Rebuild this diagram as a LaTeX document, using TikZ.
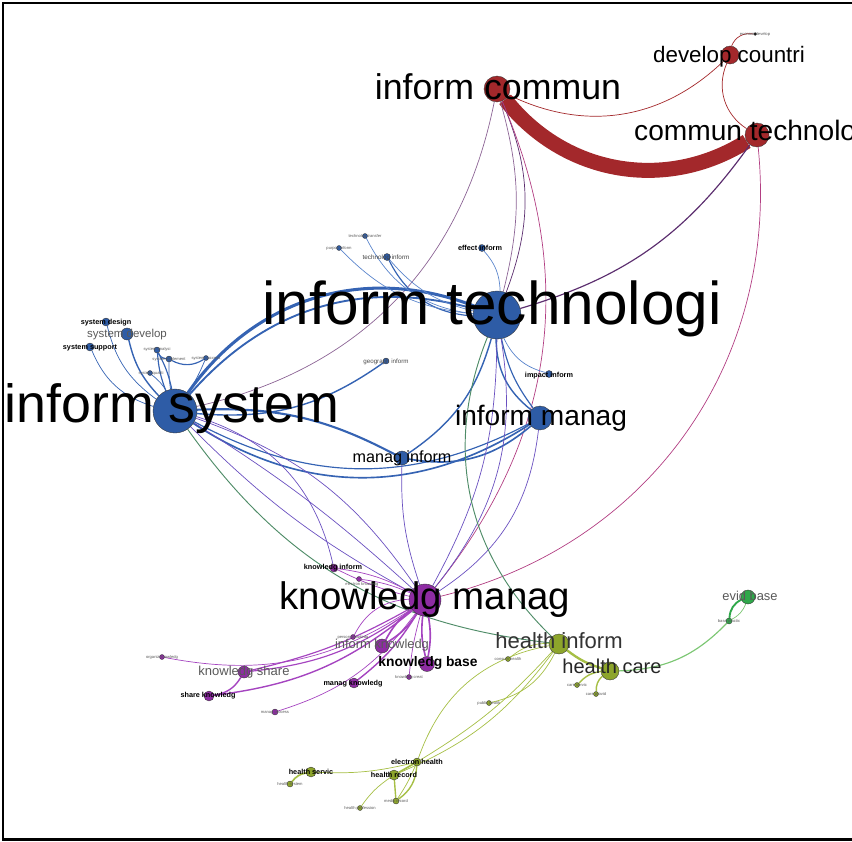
\documentclass[tikz,border=0pt]{standalone}
\usepackage{fontspec}
\setmainfont{Liberation Sans}
\usetikzlibrary{backgrounds}

\definecolor{itblue}{HTML}{2E5CA6}
\definecolor{edgeblue}{HTML}{3563B3}
\definecolor{lightblue}{HTML}{5C86CC}
\definecolor{icred}{HTML}{A3282B}
\definecolor{kmpurple}{HTML}{8E2CA3}
\definecolor{edgepurple}{HTML}{A544C0}
\definecolor{kmviolet}{HTML}{6A50C0}
\definecolor{hiolive}{HTML}{8DA52B}
\definecolor{edgeolive}{HTML}{A6BF45}
\definecolor{ebgreen}{HTML}{2FA84A}
\definecolor{edgegreen}{HTML}{7DC774}
\definecolor{mixgreen}{HTML}{4F8C68}
\definecolor{mixpurple}{HTML}{8C6495}
\definecolor{mixmagenta}{HTML}{B23E82}
\definecolor{mixdark}{HTML}{5B2D6E}

\tikzset{
    dot/.style={circle, draw=black!80, line width=0.3pt, inner sep=0pt, minimum size=#1*0.06cm},
    link/.style={draw=#1, line width=0.6pt},
    lbl/.style={font=\fontsize{#1}{#1}\selectfont, inner sep=0pt, anchor=base},
    tag/.style={font=\bfseries\fontsize{6.2}{6.2}\selectfont, inner sep=0pt, anchor=base},
    wee/.style={font=\fontsize{3.5}{3.5}\selectfont, text=black!65, inner sep=0pt, anchor=base}
}

\begin{document}
\begin{tikzpicture}[x=0.03cm, y=-0.03cm]
                \useasboundingbox (0,0) rectangle (852,841);
                \clip (0,0) rectangle (852,841);

                \node[dot=13, fill=icred] (ic) at (497,89) {};
                \node[dot=9, fill=icred] (dc) at (730,55) {};
                \node[dot=12, fill=icred] (ct) at (757,135) {};
                \node[dot=1.5, fill=black] (cd) at (755,34) {};

                \node[dot=24, fill=itblue] (it) at (497,315) {};
                \node[dot=22, fill=itblue] (is) at (175,411) {};
                \node[dot=12, fill=itblue] (im) at (540,418) {};
                \node[dot=7, fill=itblue] (mi) at (402,458) {};
                \node[dot=6, fill=itblue] (sdv) at (127,334) {};
                \node[dot=4, fill=itblue] (sd) at (106,322) {};
                \node[dot=4, fill=itblue] (ss) at (90,347) {};
                \node[dot=3, fill=itblue] (sa) at (157,350) {};
                \node[dot=3, fill=itblue] (sb) at (169,359) {};
                \node[dot=2.5, fill=itblue] (sc) at (206,358) {};
                \node[dot=2.5, fill=itblue] (se) at (150,373) {};
                \node[dot=3.5, fill=itblue] (ei) at (482,248) {};
                \node[dot=3.5, fill=itblue] (ti) at (387,257) {};
                \node[dot=2.5, fill=itblue] (pi) at (339,248) {};
                \node[dot=2.5, fill=itblue] (tt) at (365,236) {};
                \node[dot=3, fill=itblue] (gi) at (386,361) {};
                \node[dot=3.5, fill=itblue] (ii) at (549,374) {};

                \node[dot=16, fill=kmpurple] (km) at (425,600) {};
                \node[dot=4, fill=kmpurple] (kni) at (334,568) {};
                \node[dot=2.5, fill=kmpurple] (ek) at (359,579) {};
                \node[dot=7, fill=kmpurple] (ikn) at (382,646) {};
                \node[dot=2.5, fill=kmpurple] (pk) at (353,637) {};
                \node[dot=7.5, fill=kmpurple] (kb) at (427,664) {};
                \node[dot=2.5, fill=kmpurple] (kc) at (409,677) {};
                \node[dot=6, fill=kmpurple] (ksh) at (244,672) {};
                \node[dot=2.5, fill=kmpurple] (ok) at (162,657) {};
                \node[dot=5, fill=kmpurple] (shk) at (209,696) {};
                \node[dot=5, fill=kmpurple] (mk) at (354,683) {};
                \node[dot=3, fill=kmpurple] (mp) at (275,712) {};

                \node[dot=10, fill=hiolive] (hi) at (559,644) {};
                \node[dot=9, fill=hiolive] (hc) at (610,671) {};
                \node[dot=2.5, fill=hiolive] (ch) at (508,659) {};
                \node[dot=2.5, fill=hiolive] (ph) at (489,703) {};
                \node[dot=2.5, fill=hiolive] (cs) at (577,685) {};
                \node[dot=2.5, fill=hiolive] (cp) at (596,694) {};
                \node[dot=4, fill=hiolive] (eh) at (417,762) {};
                \node[dot=5, fill=hiolive] (hr) at (394,775) {};
                \node[dot=5, fill=hiolive] (hs) at (311,772) {};
                \node[dot=3, fill=hiolive] (hn) at (290,784) {};
                \node[dot=3, fill=hiolive] (mr) at (396,801) {};
                \node[dot=2.5, fill=hiolive] (hp) at (360,808) {};

                \node[dot=7, fill=ebgreen] (eb) at (748,597) {};
                \node[dot=3, fill=ebgreen] (bp) at (729,621) {};

                \begin{pgfonlayer}{background}
                \draw[link=icred, line width=12.8pt] (ic) to[bend right=42] (ct);
                \draw[link=icred] (ic) to[bend right=35] (dc);
                \draw[link=icred] (dc) to[bend right=40] (ct);
                \draw[link=icred] (dc) to[bend left=40] (cd);

                \draw[link=mixpurple] (ic) to[bend left=33] (is);
                \draw[link=mixpurple] (ic) to[bend left=15] (it);
                \draw[link=mixdark] (ic) to[bend left=22] (it);
                \draw[link=mixmagenta] (ic) to[bend left=31] (km);
                \draw[link=mixdark, line width=1pt] (ct) to[bend left=19] (it);
                \draw[link=mixmagenta] (ct) to[bend left=41] (km);

                \draw[link=edgeblue, line width=2.6pt] (is) to[bend left=38] (it);
                \draw[link=edgeblue, line width=1.6pt] (is) to[bend left=32] (it);
                \draw[link=edgeblue, line width=1.8pt] (is) to[bend left=15] (mi);
                \draw[link=edgeblue, line width=1.4pt] (is) to[bend right=33] (im);
                \draw[link=edgeblue, line width=1pt] (is) to[bend right=28] (im);
                \draw[link=edgeblue, line width=1.4pt] (mi) to[bend right=25] (im);
                \draw[link=edgeblue, line width=1.2pt] (it) to[bend right=25] (im);
                \draw[link=edgeblue, line width=1pt] (it) to[bend right=12] (im);
                \draw[link=edgeblue, line width=1.2pt] (it) to[bend left=20] (mi);
                \draw[link=lightblue] (it) to[bend right=25] (ii);
                \draw[link=lightblue] (ei) to[bend left=20] (it);
                \draw[link=edgeblue, line width=1pt] (ti) to[bend right=30] (it);
                \draw[link=lightblue] (ti) to[bend right=18] (it);
                \draw[link=lightblue] (pi) to[bend right=20] (it);
                \draw[link=lightblue] (tt) to[bend right=28] (it);
                \draw[link=edgeblue, line width=1.2pt] (gi) to[bend left=20] (is);
                \draw[link=edgeblue] (sd) to[bend right=20] (is);
                \draw[link=edgeblue, line width=1.2pt] (sdv) to[bend right=15] (is);
                \draw[link=edgeblue] (ss) to[bend right=25] (is);
                \draw[link=edgeblue, line width=1pt] (sa) to[bend right=8] (is);
                \draw[link=edgeblue, line width=1pt] (sa) to[bend left=8] (is);
                \draw[link=edgeblue] (sb) to[bend right=5] (is);
                \draw[link=edgeblue] (sc) to[bend left=5] (is);
                \draw[link=edgeblue] (se) to[bend left=10] (is);
                \draw[link=edgeblue, line width=1pt] (sa) to[bend right=30] (sb);
                \draw[link=edgeblue, line width=1pt] (sb) to[bend right=30] (sc);

                \draw[link=kmviolet] (is) to[bend left=18] (km);
                \draw[link=kmviolet] (is) to[bend left=5] (km);
                \draw[link=kmviolet] (is) to[bend right=8] (km);
                \draw[link=kmviolet] (is) to[bend left=30] (kni);
                \draw[link=kmviolet] (mi) to[bend right=10] (km);
                \draw[link=kmviolet] (im) to[bend left=25] (km);
                \draw[link=kmviolet] (it) to[bend left=24] (km);
                \draw[link=kmviolet] (it) to[bend left=14] (km);

                \draw[link=mixgreen, line width=0.8pt] (it) to[bend right=34] (hi);
                \draw[link=mixgreen, line width=0.8pt] (is) to[bend right=24] (hi);

                \draw[link=edgepurple] (km) to[bend right=10] (kni);
                \draw[link=edgepurple] (km) to[bend left=6] (kni);
                \draw[link=edgepurple] (km) to[bend right=8] (ek);
                \draw[link=edgepurple, line width=1.4pt] (km) to[bend left=12] (ikn);
                \draw[link=edgepurple, line width=1.4pt] (km) to[bend right=12] (ikn);
                \draw[link=edgepurple] (km) to[bend right=30] (pk);
                \draw[link=edgepurple, line width=1.4pt] (km) to[bend left=10] (kb);
                \draw[link=edgepurple, line width=1.4pt] (km) to[bend right=10] (kb);
                \draw[link=edgepurple] (km) to[bend right=5] (kc);
                \draw[link=edgepurple, line width=1pt] (km) to[bend left=15] (ksh);
                \draw[link=edgepurple, line width=1pt] (km) to[bend left=8] (ksh);
                \draw[link=edgepurple] (km) to[bend left=22] (ok);
                \draw[link=edgepurple, line width=1.2pt] (km) to[bend left=16] (shk);
                \draw[link=edgepurple, line width=1.2pt] (km) to[bend left=10] (mk);
                \draw[link=edgepurple] (km) to[bend left=18] (mp);
                \draw[link=edgepurple, line width=1.2pt] (ksh) to[bend left=25] (shk);

                \draw[link=edgeolive, line width=2pt] (hi) to[bend right=10] (hc);
                \draw[link=edgeolive] (hi) to[bend right=20] (ch);
                \draw[link=edgeolive] (hi) to[bend left=25] (ph);
                \draw[link=edgeolive] (hi) to[bend right=30] (eh);
                \draw[link=edgeolive] (eh) to[bend right=8] (hi);
                \draw[link=edgeolive] (hr) to[bend right=15] (hi);
                \draw[link=edgeolive] (hs) to[bend right=8] (eh);
                \draw[link=edgeolive, line width=1.4pt] (hs) to[bend right=20] (hn);
                \draw[link=edgeolive] (hr) to[bend right=10] (hp);
                \draw[link=edgeolive, line width=1.2pt] (hr) to (mr);
                \draw[link=edgeolive, line width=1.2pt] (eh) to[bend left=25] (mr);
                \draw[link=edgeolive] (eh) to[bend left=5] (mr);
                \draw[link=edgeolive, line width=1.4pt] (eh) to (hr);
                \draw[link=edgeolive, line width=1.2pt] (hc) to[bend right=20] (cs);
                \draw[link=edgeolive, line width=1.2pt] (hc) to[bend right=25] (cp);

                \draw[link=edgegreen, line width=1pt] (hc) to[bend right=22] (bp);
                \draw[link=ebgreen, line width=1.6pt] (bp) to[bend left=30] (eb);
                \draw[link=edgegreen] (bp) to[bend right=20] (eb);
                \end{pgfonlayer}

                \node[lbl=30.5] (ic-l) at (498,99) {inform commun};
                \node[lbl=19.1] (dc-l) at (729,62) {develop countri};
                \node[lbl=24, anchor=base west] (ct-l) at (634,140) {commun technologi};
                \node[wee] (cd-l) at (755,35) {econom develop};

                \node[lbl=51.5] (it-l) at (492,324) {inform technologi};
                \node[lbl=45.9] (is-l) at (172,422) {inform system};
                \node[lbl=24] (im-l) at (541,425) {inform manag};
                \node[lbl=13.8] (mi-l) at (402,462) {manag inform};
                \node[lbl=9.8, text=black!65] (sdv-l) at (127,337) {system develop};
                \node[tag] (sd-l) at (106,324) {system design};
                \node[tag] (ss-l) at (90,349) {system support};
                \node[wee] (sa-l) at (157,350) {system analysi};
                \node[wee] (sb-l) at (169,360) {system implement};
                \node[wee] (sc-l) at (206,359) {system success};
                \node[wee] (se-l) at (151,374) {system qualiti};
                \node[tag] (ei-l) at (480,250) {effect inform};
                \node[lbl=5.4, text=black!75] (ti-l) at (386,259) {technolog inform};
                \node[wee] (pi-l) at (339,249) {purpos inform};
                \node[wee] (tt-l) at (365,237) {technolog transfer};
                \node[lbl=5.3, text=black!70] (gi-l) at (386,363) {geograph inform};
                \node[tag] (ii-l) at (549,377) {impact inform};

                \node[lbl=32.8] (km-l) at (425,609) {knowledg manag};
                \node[tag] (kni-l) at (333,569) {knowledg inform};
                \node[wee] (ek-l) at (362,585) {electron knowledg};
                \node[lbl=11, text=black!65] (ikn-l) at (382,648) {inform knowledg};
                \node[wee] (pk-l) at (353,638) {person knowledg};
                \node[lbl=11.8, font=\bfseries\fontsize{11.8}{11.8}\selectfont] (kb-l) at (428,666) {knowledg base};
                \node[wee] (kc-l) at (409,678) {knowledg creat};
                \node[lbl=11.1, text=black!65] (ksh-l) at (244,675) {knowledg share};
                \node[wee] (ok-l) at (162,658) {organiz knowledg};
                \node[tag] (shk-l) at (208,697) {share knowledg};
                \node[tag] (mk-l) at (353,685) {manag knowledg};
                \node[wee] (mp-l) at (275,713) {manag process};

                \node[lbl=18.8, text=black!80] (hi-l) at (559,648) {health inform};
                \node[lbl=17.1, text=black!85] (hc-l) at (612,673) {health care};
                \node[wee] (ch-l) at (508,660) {consum health};
                \node[wee] (ph-l) at (489,704) {public health};
                \node[wee] (cs-l) at (577,686) {care servic};
                \node[wee] (cp-l) at (596,695) {care provid};
                \node[tag] (eh-l) at (417,764) {electron health};
                \node[tag] (hr-l) at (394,777) {health record};
                \node[tag] (hs-l) at (311,774) {health servic};
                \node[wee] (hn-l) at (290,785) {health system};
                \node[wee] (mr-l) at (396,802) {medic record};
                \node[wee] (hp-l) at (360,809) {health profession};

                \node[lbl=11, text=black!65] (eb-l) at (750,600) {evid base};
                \node[wee] (bp-l) at (729,622) {base practic};

                \draw[line width=2.1pt] (852,3) -- (3,3) -- (3,839.5) -- (852,839.5);

            \end{tikzpicture}
\end{document}
